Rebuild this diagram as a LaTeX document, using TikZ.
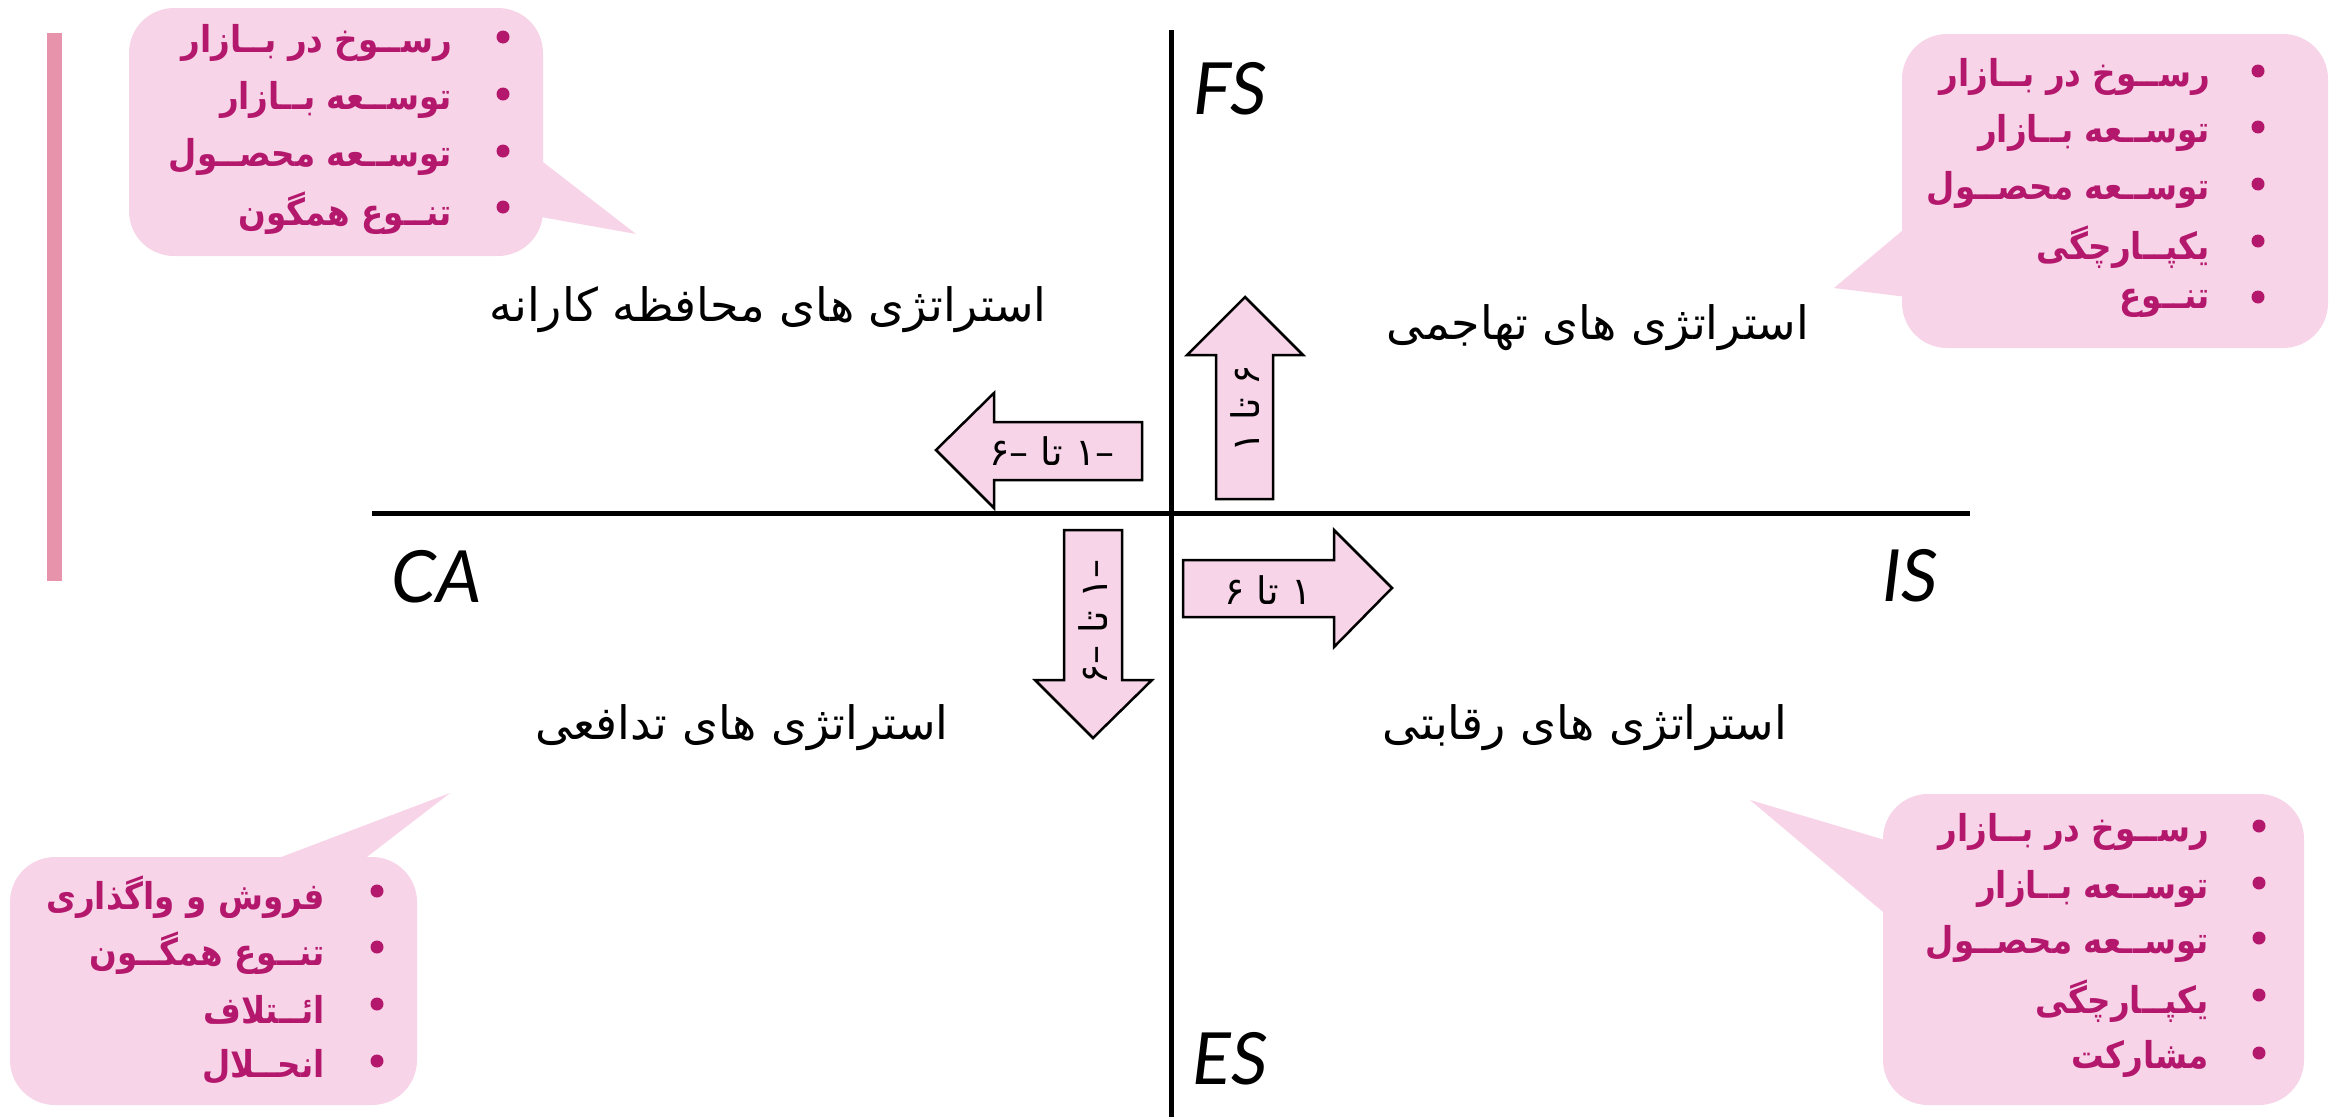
\documentclass[tikz,border=0pt]{standalone}
\usepackage{fontspec}
\TeXXeTstate=1
\newfontfamily\arabicfont[Script=Arabic]{DejaVu Sans}
\newfontfamily\arabicbold[Script=Arabic, FakeStretch=0.88]{DejaVu Sans Bold}
\newfontfamily\axisfont{Lato}
\definecolor{calloutfill}{HTML}{F8D4E8}
\definecolor{callouttext}{HTML}{B3186D}
\definecolor{barpink}{HTML}{E693AB}
\definecolor{arrowfill}{HTML}{F8D4E8}
\begin{document}
\begin{tikzpicture}[x=1pt,y=-1pt,
  axisline/.style={line width=5pt, black},
  callout/.style={fill=calloutfill, draw=none},
  itemtext/.style={anchor=east, inner sep=0pt, text=callouttext, font=\arabicbold\fontsize{37}{40}\selectfont},
  bulletdot/.style={circle, fill=callouttext, inner sep=0pt, minimum size=13pt},
  heading/.style={inner sep=0pt, font=\arabicfont\fontsize{46}{52}\selectfont},
  axislabel/.style={inner sep=0pt, font=\axisfont\itshape\fontsize{72}{80}\selectfont},
  bigarrow/.style={fill=arrowfill, draw=black, line width=2.5pt, line join=miter},
  arrowtext/.style={inner sep=0pt, font=\arabicfont\fontsize{38}{44}\selectfont},
]
\useasboundingbox (0,0) rectangle (2331,1117);
\fill[white] (0,0) rectangle (2331,1117);

% left bar
\fill[barpink] (47,33) rectangle (62,581);

% axes
\coordinate (hl) at (372,513);
\coordinate (hr) at (1970,513);
\coordinate (vt) at (1171,30);
\coordinate (vb) at (1171,1117);
\draw[axisline] (hl) -- (hr);
\draw[axisline] (vt) -- (vb);

% axis labels
\node[axislabel] (fs) at (1230,89) {FS};
\node[axislabel] (is) at (1910,576) {IS};
\node[axislabel] (ca) at (437,577) {CA};
\node[axislabel] (es) at (1230,1059) {ES};

% headings
\node[heading] (hTL) at (768,310) {\beginR استراتژی های محافظه کارانه\endR};
\node[heading] (hTR) at (1598,328) {\beginR استراتژی های تهاجمی\endR};
\node[heading] (hBL) at (742,728) {\beginR استراتژی های تدافعی\endR};
\node[heading] (hBR) at (1585,728) {\beginR استراتژی های رقابتی\endR};

% arrows
\draw[bigarrow] (1142,422) -- (994,422) -- (994,393) -- (936,450) -- (994,508) -- (994,480) -- (1142,480) -- cycle;
\node[arrowtext] (tleft) at (1052,451) {\beginR\beginL–۱\endL{} تا \beginL–۶\endL\endR};
\draw[bigarrow] (1216,499) -- (1216,355) -- (1187,355) -- (1245,297) -- (1303,355) -- (1273,355) -- (1273,499) -- cycle;
\node[arrowtext, rotate=90] (tup) at (1245,409) {\beginR ۶ تا ۱\endR};
\draw[bigarrow] (1064,530) -- (1122,530) -- (1122,680) -- (1152,680) -- (1093,738) -- (1035,680) -- (1064,680) -- cycle;
\node[arrowtext, rotate=90] (tdown) at (1093,622) {\beginR\beginL–۱\endL{} تا \beginL–۶\endL\endR};
\draw[bigarrow] (1183,560) -- (1334,560) -- (1334,530) -- (1392,588) -- (1334,647) -- (1334,617) -- (1183,617) -- cycle;
\node[arrowtext] (tright) at (1268,590) {\beginR ۱ تا ۶\endR};

% TL callout
\fill[callout, rounded corners=45pt] (129,8) rectangle (543,256);
\fill[callout] (530,152) -- (636,234) -- (530,215) -- cycle;
\node[itemtext] (tl1) at (452,43) {\beginR رســوخ در بــازار\endR};
\node[itemtext] (tl2) at (452,100) {\beginR توســعه بــازار\endR};
\node[itemtext] (tl3) at (452,157) {\beginR توســعه محصــول\endR};
\node[itemtext] (tl4) at (452,213) {\beginR تنــوع همگون\endR};
\node[bulletdot] (tlb1) at (503,37) {};
\node[bulletdot] (tlb2) at (503,94) {};
\node[bulletdot] (tlb3) at (503,151) {};
\node[bulletdot] (tlb4) at (503,207) {};

% TR callout
\fill[callout, rounded corners=45pt] (1902,34) rectangle (2328,348);
\fill[callout] (1915,220) -- (1834,288) -- (1915,298) -- cycle;
\node[itemtext] (tr1) at (2210,77) {\beginR رســوخ در بــازار\endR};
\node[itemtext] (tr2) at (2210,133) {\beginR توســعه بــازار\endR};
\node[itemtext] (tr3) at (2210,190) {\beginR توســعه محصــول\endR};
\node[itemtext] (tr4) at (2210,247) {\beginR یکپــارچگی\endR};
\node[itemtext] (tr5) at (2210,303) {\beginR تنــوع\endR};
\node[bulletdot] (trb1) at (2258,71) {};
\node[bulletdot] (trb2) at (2258,127) {};
\node[bulletdot] (trb3) at (2258,184) {};
\node[bulletdot] (trb4) at (2258,241) {};
\node[bulletdot] (trb5) at (2258,297) {};

% BL callout
\fill[callout, rounded corners=45pt] (10,857) rectangle (417,1105);
\fill[callout] (247,870) -- (450,793) -- (350,870) -- cycle;
\node[itemtext] (bl1) at (325,897) {\beginR فروش و واگذاری\endR};
\node[itemtext] (bl2) at (325,953) {\beginR تنــوع همگــون\endR};
\node[itemtext] (bl3) at (325,1010) {\beginR ائــتلاف\endR};
\node[itemtext] (bl4) at (325,1067) {\beginR انحــلال\endR};
\node[bulletdot] (blb1) at (377,891) {};
\node[bulletdot] (blb2) at (377,947) {};
\node[bulletdot] (blb3) at (377,1004) {};
\node[bulletdot] (blb4) at (377,1061) {};

% BR callout
\fill[callout, rounded corners=45pt] (1883,794) rectangle (2304,1105);
\fill[callout] (1895,843) -- (1750,800) -- (1895,922) -- cycle;
\node[itemtext] (br1) at (2209,832) {\beginR رســوخ در بــازار\endR};
\node[itemtext] (br2) at (2209,889) {\beginR توســعه بــازار\endR};
\node[itemtext] (br3) at (2209,944) {\beginR توســعه محصــول\endR};
\node[itemtext] (br4) at (2209,1001) {\beginR یکپــارچگی\endR};
\node[itemtext] (br5) at (2209,1059) {\beginR مشارکت\endR};
\node[bulletdot] (brb1) at (2259,826) {};
\node[bulletdot] (brb2) at (2259,883) {};
\node[bulletdot] (brb3) at (2259,938) {};
\node[bulletdot] (brb4) at (2259,995) {};
\node[bulletdot] (brb5) at (2259,1053) {};
\end{tikzpicture}
\end{document}
